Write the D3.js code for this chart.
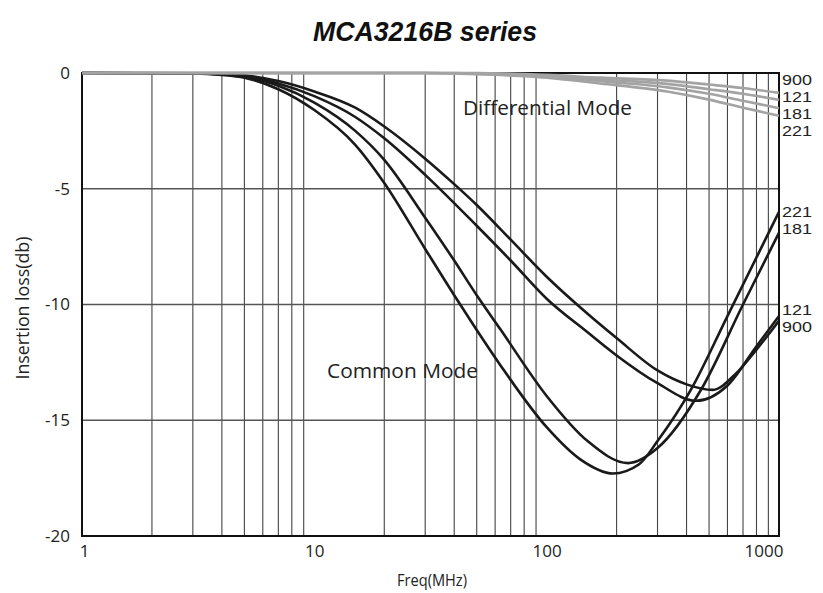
<!DOCTYPE html>
<html>
<head>
<meta charset="utf-8">
<script src="https://cdn.jsdelivr.net/npm/d3@7/dist/d3.min.js"></script>
<style>
  html, body { margin: 0; padding: 0; background: #fff; }
  svg { display: block; }
  text { font-family: "Open Sans", "Noto Sans", sans-serif; fill: #222; }
</style>
</head>
<body>
<svg id="chart" width="823" height="593"></svg>
<script>
// ---------------- DATA ----------------
const title = "MCA3216B series";
const xTickValues = [1, 10, 100, 1000];
const yTickValues = [0, -5, -10, -15, -20];
const xMinorGrid = [2,3,4,5,6,7,8,9,20,30,40,50,60,70,80,90,200,300,400,500,600,700,800,900];
const yGrid = [-5, -10, -15];

// Common mode (black) : [freq MHz, insertion loss dB]
const cm221 = [[1,0],[3,-0.02],[4,-0.08],[5,-0.2],[7,-0.7],[10,-1.6],[15,-3.1],[20,-4.75],[30,-7.6],[40,-9.6],[50,-11.1],[63,-12.6],[100,-15.3],[140,-16.7],[193,-17.3],[250,-16.9],[300,-15.9],[419,-13.66],[600,-10.5],[1000,-6.0]];
const cm181 = [[1,0],[3,-0.02],[4,-0.06],[5,-0.15],[7,-0.55],[10,-1.28],[15,-2.5],[20,-3.75],[30,-6.25],[40,-8.1],[50,-9.6],[63,-11.05],[100,-13.95],[150,-15.9],[224,-16.85],[300,-16.2],[463,-13.66],[700,-10.0],[1000,-6.9]];
const cm121 = [[1,0],[3,-0.02],[4,-0.05],[5,-0.12],[7,-0.45],[10,-1.0],[15,-1.9],[20,-2.82],[30,-4.4],[50,-6.6],[70,-8.1],[100,-9.75],[150,-11.2],[200,-12.2],[300,-13.4],[440,-14.16],[600,-13.5],[800,-11.8],[1000,-10.5]];
const cm900 = [[1,0],[3,-0.01],[4,-0.04],[5,-0.1],[7,-0.35],[10,-0.8],[15,-1.5],[20,-2.31],[30,-3.7],[40,-4.8],[50,-5.7],[70,-7.2],[100,-8.8],[150,-10.4],[200,-11.45],[300,-12.85],[400,-13.45],[519,-13.69],[650,-13.0],[800,-11.95],[1000,-10.7]];

// Differential mode (gray)
const dm221 = [[1,0],[30,0],[50,-0.05],[100,-0.2],[170,-0.45],[330,-0.8],[500,-1.15],[700,-1.5],[1000,-1.85]];
const dm181 = [[1,0],[30,0],[50,-0.04],[100,-0.15],[170,-0.35],[330,-0.62],[500,-0.9],[700,-1.2],[1000,-1.52]];
const dm121 = [[1,0],[40,0],[60,-0.04],[100,-0.12],[170,-0.28],[330,-0.47],[500,-0.7],[700,-0.9],[1000,-1.16]];
const dm900 = [[1,0],[50,0],[100,-0.08],[170,-0.2],[330,-0.33],[500,-0.5],[700,-0.65],[1000,-0.86]];

const dmLabels = ["900", "121", "181", "221"];
const cmLabelsTop = ["221", "181"];
const cmLabelsBottom = ["121", "900"];

// ---------------- DRAW ----------------
const svg = d3.select("#chart");
const pL = 82, pR = 779, pT = 73, pB = 536;

const x = d3.scaleLog().domain([1, 1000]).range([pL, pR]);
const y = d3.scaleLinear().domain([-20, 0]).range([pB, pT]);

// Title
svg.append("text")
  .attr("x", 425).attr("y", 41)
  .attr("text-anchor", "middle")
  .attr("textLength", 224).attr("lengthAdjust", "spacingAndGlyphs")
  .style("font-family", "'Liberation Sans', Arial, sans-serif")
  .style("font-weight", "bold").style("font-style", "italic")
  .style("font-size", "28px").style("fill", "#111")
  .text(title);

// Grid
const grid = svg.append("g");
grid.selectAll("line.v").data(xMinorGrid).join("line")
  .attr("x1", d => x(d)).attr("x2", d => x(d))
  .attr("y1", pT).attr("y2", pB)
  .attr("stroke", "#444").attr("stroke-width", 1.1);
grid.selectAll("line.h").data(yGrid).join("line")
  .attr("x1", pL).attr("x2", pR)
  .attr("y1", d => y(d)).attr("y2", d => y(d))
  .attr("stroke", "#555").attr("stroke-width", 1.3);

// Frame
svg.append("rect")
  .attr("x", pL).attr("y", pT)
  .attr("width", pR - pL).attr("height", pB - pT)
  .attr("fill", "none").attr("stroke", "#111").attr("stroke-width", 2);

// Axes (labels only)
const fmt = d => String(d);
const xAxis = d3.axisBottom(x).tickValues(xTickValues).tickFormat(fmt).tickSize(0).tickPadding(9);
const gx = svg.append("g").attr("transform", `translate(0,${pB})`).call(xAxis);
gx.select(".domain").remove();
gx.selectAll("text").style("font-size", "17px").style("font-family", "'Open Sans', sans-serif").attr("fill", "#222");
gx.selectAll(".tick").filter(d => d === 1000).select("text").attr("text-anchor", "end").attr("dx", 4);
gx.selectAll(".tick").filter(d => d === 1).select("text").attr("dx", 2);

const yAxis = d3.axisLeft(y).tickValues(yTickValues).tickFormat(fmt).tickSize(0).tickPadding(12);
const gy = svg.append("g").attr("transform", `translate(${pL},0)`).call(yAxis);
gy.select(".domain").remove();
gy.selectAll("text").style("font-size", "17px").style("font-family", "'Open Sans', sans-serif").attr("fill", "#222");

// Axis titles
svg.append("text")
  .attr("transform", "translate(29,308) rotate(-90)")
  .attr("text-anchor", "middle")
  .attr("textLength", 143).attr("lengthAdjust", "spacingAndGlyphs")
  .style("font-size", "18px")
  .text("Insertion loss(db)");
svg.append("text")
  .attr("x", 432).attr("y", 586)
  .attr("text-anchor", "middle")
  .attr("textLength", 70).attr("lengthAdjust", "spacingAndGlyphs")
  .style("font-size", "17px")
  .text("Freq(MHz)");

// Lines
const line = d3.line().x(d => x(d[0])).y(d => y(d[1])).curve(d3.curveMonotoneX);
const cmSeries = [cm221, cm181, cm121, cm900];
const dmSeries = [dm221, dm181, dm121, dm900];

svg.append("g").selectAll("path").data(cmSeries).join("path")
  .attr("d", line).attr("fill", "none")
  .attr("stroke", "#1a1a1a").attr("stroke-width", 2.6);

svg.append("g").selectAll("path").data(dmSeries).join("path")
  .attr("d", line).attr("fill", "none")
  .attr("stroke", "#a3a3a3").attr("stroke-width", 2.6);

// In-plot labels
svg.append("text").attr("x", 463).attr("y", 115)
  .attr("textLength", 169).attr("lengthAdjust", "spacingAndGlyphs")
  .style("font-size", "19.5px").text("Differential Mode");
svg.append("text").attr("x", 327).attr("y", 378)
  .attr("textLength", 151).attr("lengthAdjust", "spacingAndGlyphs")
  .style("font-size", "19.5px").text("Common Mode");

// Right side series labels
const rl = svg.append("g");
function rightLabels(cls, labels, ys) {
  rl.selectAll("text." + cls).data(labels).join("text")
    .attr("class", cls)
    .attr("x", 782).attr("y", (d, i) => ys[i]).attr("dy", "0.35em")
    .attr("textLength", 30).attr("lengthAdjust", "spacingAndGlyphs")
    .style("font-family", "'Liberation Sans', Arial, sans-serif")
    .style("font-size", "15px")
    .text(d => d);
}
rightLabels("dm", dmLabels, [80, 97, 114, 131]);
rightLabels("ct", cmLabelsTop, [212, 229]);
rightLabels("cb", cmLabelsBottom, [310, 327]);
</script>
</body>
</html>
